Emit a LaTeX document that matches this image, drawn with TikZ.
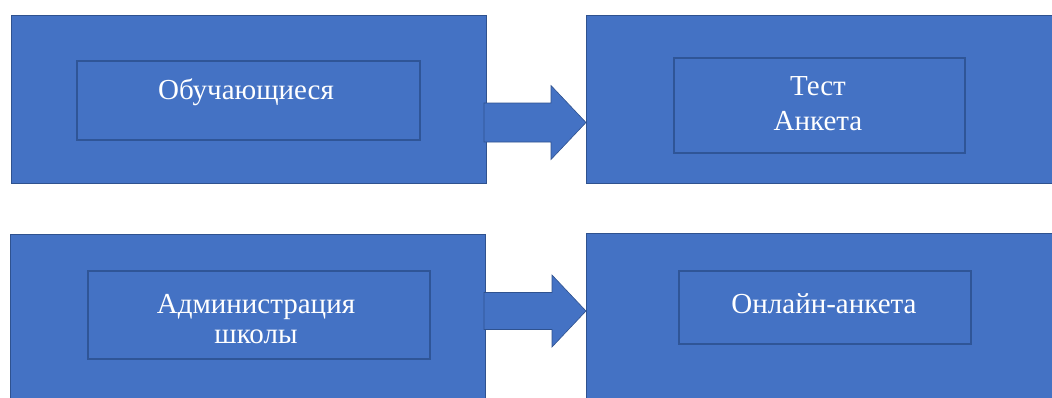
\documentclass[tikz,border=0pt]{standalone}
\usepackage{fontspec}
\setmainfont{Liberation Serif}
\usetikzlibrary{calc}
\definecolor{boxblue}{HTML}{4472C4}
\definecolor{edgeblue}{HTML}{2F528F}
\definecolor{inneredge}{HTML}{2F5597}
\begin{document}
\begin{tikzpicture}[x=1pt,y=-1pt,
  outerbox/.style={draw=edgeblue,line width=0.8pt,fill=boxblue,inner sep=0pt,outer sep=0pt,minimum height=168pt},
  innerbox/.style={draw=inneredge,line width=1.3pt,fill=boxblue,inner sep=0pt,outer sep=0pt},
  lbl/.style={text=white,font=\fontsize{29}{35}\selectfont,inner sep=0pt,align=center},
  arrowshape/.style={fill=boxblue,draw=edgeblue,line width=0.6pt}]
\clip (0,0) rectangle (1052,397);
\fill[white] (0,0) rectangle (1052,397);
% outer boxes
\node[outerbox,minimum width=475pt] (o1) at (248.5,99) {};
\node[outerbox,minimum width=474pt] (o2) at (823,99) {};
\node[outerbox,minimum width=475pt] (o3) at (247.5,318) {};
\node[outerbox,minimum width=474pt] (o4) at (823,317) {};
% inner boxes
\node[innerbox,minimum width=343pt,minimum height=79pt] (i1) at (248.5,100.5) {};
\node[innerbox,minimum width=291pt,minimum height=95pt] (i2) at (819.5,105.5) {};
\node[innerbox,minimum width=342pt,minimum height=88pt] (i3) at (259,315) {};
\node[innerbox,minimum width=292pt,minimum height=73pt] (i4) at (825,307.5) {};
% texts (base anchor = baseline of the last line)
\node[lbl,anchor=base] (t1) at (246,99) {Обучающиеся};
\node[lbl,anchor=base] (t2) at (818,130) {Тест\\Анкета};
\node[lbl,anchor=base,font=\fontsize{29}{30}\selectfont] (t3) at (256,343) {Администрация\\школы};
\node[lbl,anchor=base] (t4) at (824,313) {Онлайн-анкета};
% arrows
\coordinate (a1s) at (o1.east |- 0,122.5);
\coordinate (a1t) at (o2.west |- 0,122.5);
\draw[arrowshape] ($(a1s)+(-2,-19.5)$) -- ($(a1t)+(-35,-19.5)$) -- ($(a1t)+(-35,-37)$)
  -- (a1t) -- ($(a1t)+(-35,37)$) -- ($(a1t)+(-35,19.5)$) -- ($(a1s)+(-2,19.5)$) -- cycle;
\coordinate (a2s) at (o3.east |- 0,311);
\coordinate (a2t) at (o4.west |- 0,311);
\draw[arrowshape] ($(a2s)+(-1,-18.5)$) -- ($(a2t)+(-34,-18.5)$) -- ($(a2t)+(-34,-36)$)
  -- (a2t) -- ($(a2t)+(-34,36)$) -- ($(a2t)+(-34,18.5)$) -- ($(a2s)+(-1,18.5)$) -- cycle;
\end{tikzpicture}
\end{document}
